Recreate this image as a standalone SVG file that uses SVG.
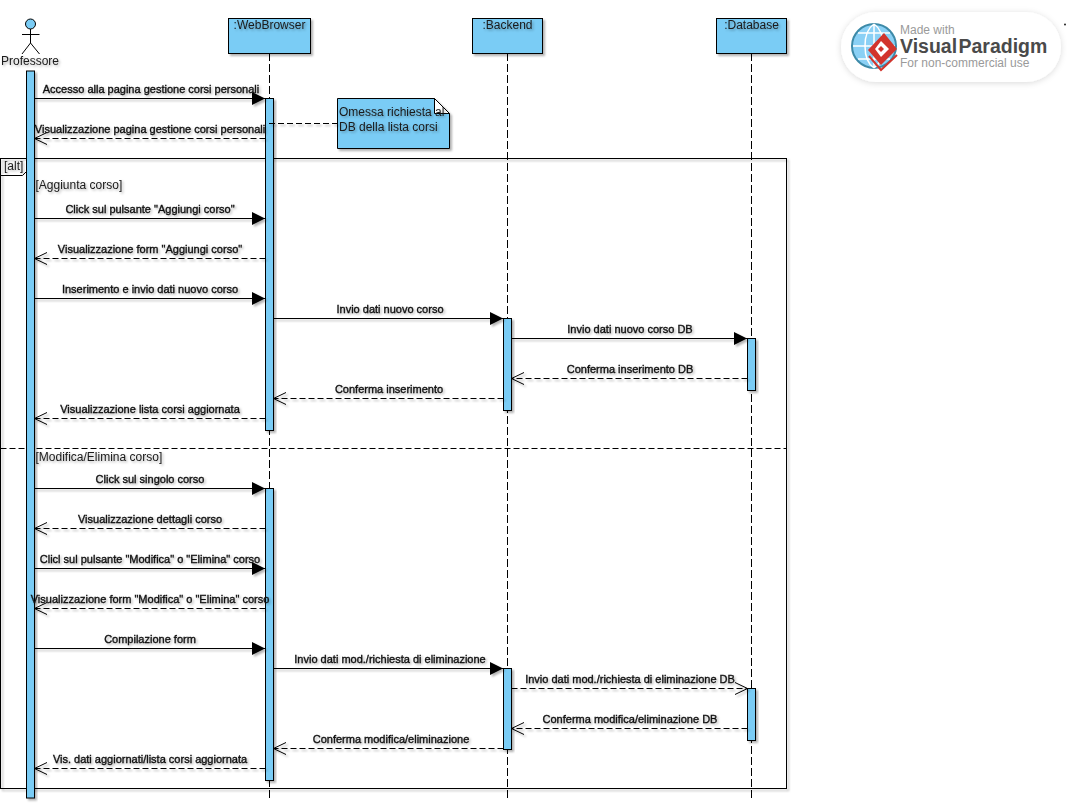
<svg xmlns="http://www.w3.org/2000/svg" width="1077" height="806" viewBox="0 0 1077 806">
<defs>
<style>
text{font-family:"Liberation Sans",Arial,sans-serif}
.obj{fill:#7accf5;stroke:#000;stroke-width:1;filter:url(#sh)}
.bar{fill:#7accf5;stroke:#000;stroke-width:1;filter:url(#sh)}
.life{stroke:#000;stroke-width:1;stroke-dasharray:8 3;fill:none}
.lbl{font-size:12px;fill:#1a1a1a;filter:url(#ts)}
.ctr{text-anchor:middle}
.m{font-size:11px;fill:#111;stroke:#111;stroke-width:.35px;text-anchor:middle;filter:url(#ts)}
.sync{stroke:#000;stroke-width:1;fill:none;marker-end:url(#solid)}
.ret{stroke:#000;stroke-width:1;stroke-dasharray:6 3;fill:none;marker-end:url(#open)}
.fr{fill:none;stroke:#000;stroke-width:1}
</style>
<filter id="sh" x="-30%" y="-30%" width="170%" height="170%"><feDropShadow dx="2" dy="2" stdDeviation="1.2" flood-color="#000" flood-opacity=".3"/></filter>
<filter id="ts" x="-5%" y="-30%" width="110%" height="170%"><feDropShadow dx="1.500" dy="1.500" stdDeviation="1" flood-color="#000" flood-opacity=".3"/></filter>
<filter id="soft" x="-10%" y="-20%" width="120%" height="140%"><feDropShadow dx="0" dy="1" stdDeviation="3" flood-color="#000" flood-opacity=".15"/></filter>
<marker id="solid" markerUnits="userSpaceOnUse" markerWidth="14" markerHeight="14" refX="13" refY="7" orient="auto"><path d="M0 0.500L13 7L0 13.500Z" fill="#000"/></marker>
<marker id="open" markerUnits="userSpaceOnUse" markerWidth="15" markerHeight="16" refX="13.500" refY="8" orient="auto"><path d="M1 2L13.500 8L1 14" fill="none" stroke="#000" stroke-dasharray="none"/></marker>
</defs>
<rect width="1077" height="806" fill="#fff"/>
<g id="lifelines">
<path class="life" d="M269.500 53V800M507.500 53V800M751.500 53V800"/>
</g>
<g id="frame-alt">
<rect class="fr" x="0.500" y="158.500" width="786" height="630" filter="url(#sh)"/>
<path d="M0.500 175.500H22.500L29.500 168.500V158.500" fill="#fff" stroke="#000"/>
<text class="lbl" x="4" y="170">[alt]</text>
<path d="M0.500 448.500H786" stroke="#000" stroke-dasharray="6 3" fill="none"/>
<text class="lbl" x="35.500" y="189">[Aggiunta corso]</text>
<text class="lbl" x="35.500" y="461">[Modifica/Elimina corso]</text>
</g>
<g id="professore">
<circle cx="30.500" cy="24" r="5" fill="#7accf5" stroke="#000"/>
<path d="M30.500 29V43M22 34.500H39.500M30.500 43L22 54M30.500 43L39.500 54" fill="none" stroke="#000"/>
<text class="lbl ctr" x="30" y="65">Professore</text>
<rect class="bar" x="26.500" y="71" width="8" height="727"/>
</g>
<g id="webbrowser">
<rect class="obj" x="228.500" y="18.500" width="82" height="35"/>
<text class="lbl ctr" x="269.500" y="29">:WebBrowser</text>
<rect class="bar" x="265.500" y="98.500" width="8" height="332"/>
<rect class="bar" x="265.500" y="488.500" width="8" height="292"/>
</g>
<g id="backend">
<rect class="obj" x="472.500" y="18.500" width="70" height="35"/>
<text class="lbl ctr" x="507.500" y="29">:Backend</text>
<rect class="bar" x="503.500" y="318.500" width="8" height="92"/>
<rect class="bar" x="503.500" y="668.500" width="8" height="81"/>
</g>
<g id="database">
<rect class="obj" x="716.500" y="18.500" width="70" height="35"/>
<text class="lbl ctr" x="751.500" y="29">:Database</text>
<rect class="bar" x="747.500" y="338.500" width="8" height="52"/>
<rect class="bar" x="747.500" y="688.500" width="8" height="52"/>
</g>
<g id="note">
<path d="M337.500 98.500H434.500L449.500 113.500V148.500H337.500Z" fill="#7accf5" stroke="#000" filter="url(#sh)"/>
<path d="M434.500 98.500V113.500H449.500Z" fill="#fff" stroke="#000"/>
<text class="lbl" x="339" y="116">Omessa richiesta al</text>
<text class="lbl" x="339" y="131">DB della lista corsi</text>
</g>
<g id="connectors" filter="url(#sh)">
<path d="M269 123.500H337" stroke="#000" stroke-dasharray="6 3" fill="none"/>
<path class="sync" d="M34.500 98.500H265"/>
<path class="ret" d="M265.500 138.500H34.500"/>
<path class="sync" d="M34.500 218.500H265"/>
<path class="ret" d="M265.500 258.500H34.500"/>
<path class="sync" d="M34.500 298.500H265"/>
<path class="sync" d="M273.500 318.500H503"/>
<path class="sync" d="M511.500 338.500H747"/>
<path class="ret" d="M747.500 378.500H511.500"/>
<path class="ret" d="M503.500 398.500H273.500"/>
<path class="ret" d="M265.500 418.500H34.500"/>
<path class="sync" d="M34.500 488.500H265"/>
<path class="ret" d="M265.500 528.500H34.500"/>
<path class="sync" d="M34.500 568.500H265"/>
<path class="ret" d="M265.500 608.500H34.500"/>
<path class="sync" d="M34.500 648.500H265"/>
<path class="sync" d="M273.500 668.500H503"/>
<path class="ret" d="M511.500 688.500H747.500"/>
<path class="ret" d="M747.500 728.500H511.500"/>
<path class="ret" d="M503.500 748.500H273.500"/>
<path class="ret" d="M265.500 768.500H34.500"/>
</g>
<g id="labels">
<text class="m" x="151" y="93">Accesso alla pagina gestione corsi personali</text>
<text class="m" x="150" y="133">Visualizzazione pagina gestione corsi personali</text>
<text class="m" x="150" y="213">Click sul pulsante "Aggiungi corso"</text>
<text class="m" x="150" y="253">Visualizzazione form "Aggiungi corso"</text>
<text class="m" x="150" y="293">Inserimento e invio dati nuovo corso</text>
<text class="m" x="390" y="313">Invio dati nuovo corso</text>
<text class="m" x="630" y="333">Invio dati nuovo corso DB</text>
<text class="m" x="630" y="373">Conferma inserimento DB</text>
<text class="m" x="389" y="393">Conferma inserimento</text>
<text class="m" x="150" y="413">Visualizzazione lista corsi aggiornata</text>
<text class="m" x="150" y="483">Click sul singolo corso</text>
<text class="m" x="150" y="523">Visualizzazione dettagli corso</text>
<text class="m" x="150" y="563">Clicl sul pulsante "Modifica" o "Elimina" corso</text>
<text class="m" x="150" y="603">Visualizzazione form "Modifica" o "Elimina" corso</text>
<text class="m" x="150" y="643">Compilazione form</text>
<text class="m" x="390" y="663">Invio dati mod./richiesta di eliminazione</text>
<text class="m" x="630" y="683">Invio dati mod./richiesta di eliminazione DB</text>
<text class="m" x="630" y="723">Conferma modifica/eliminazione DB</text>
<text class="m" x="391" y="743">Conferma modifica/eliminazione</text>
<text class="m" x="150" y="763">Vis. dati aggiornati/lista corsi aggiornata</text>
</g>
<g id="watermark">
<rect x="841" y="12" width="220" height="70" rx="35" fill="#fff" filter="url(#soft)"/>
<circle cx="874" cy="46" r="22" fill="#8ad0f5" stroke="#3d8aa8" stroke-width="2"/>
<path d="M853 46H895M874 24V68M858 33H890M858 59H890M874 24C862 32 862 60 874 68M874 24C886 32 886 60 874 68" fill="none" stroke="#fff" stroke-width="1.500"/>
<path d="M884 33L897 49L881 65L868 50Z" fill="#d2342c"/>
<path d="M881 41L889 49L881 57L875 49Z" fill="#fff"/>
<path d="M881 46L884 49L881 52L878 49Z" fill="#d2342c"/>
<path d="M869 56L881 70L897 55" fill="none" stroke="#d2342c" stroke-width="2"/>
<text x="900" y="34" font-size="12" fill="#9a9a9a">Made with</text>
<text x="900" y="53" font-size="19.500" font-weight="bold" word-spacing="-4" fill="#4a4a4a">Visual Paradigm</text>
<text x="900" y="67" font-size="12" fill="#9a9a9a">For non-commercial use</text>
<circle cx="1065" cy="24.500" r="1" fill="#222"/>
</g>
</svg>
